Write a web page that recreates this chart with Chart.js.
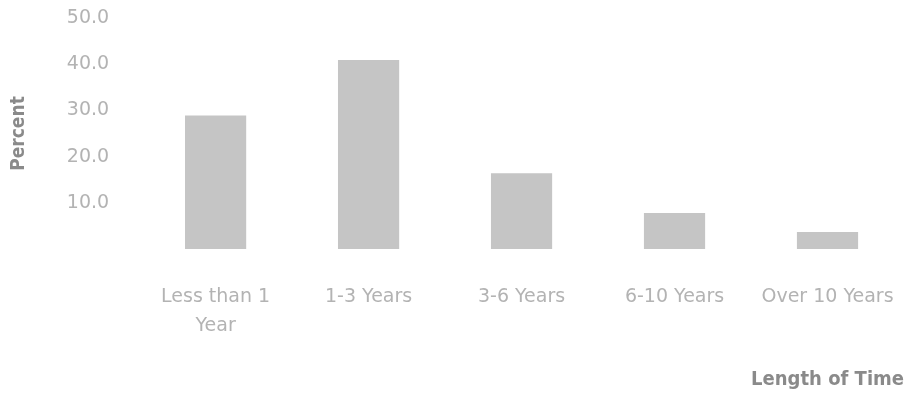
<!DOCTYPE html>
<html>
<head>
<meta charset="utf-8">
<script src="https://cdn.jsdelivr.net/npm/chart.js@4"></script>
<style>
  html, body { margin: 0; padding: 0; background: #fff; }
  #wrap { width: 922px; height: 405px; }
</style>
</head>
<body>
<div id="wrap"><canvas id="myChart"></canvas></div>
<script>
// categories and values
const categories = [["Less than 1", "Year"], "1-3 Years", "3-6 Years", "6-10 Years", "Over 10 Years"];
const percents = [28.9, 40.9, 16.4, 7.8, 3.7];
const yTicks = [10, 20, 30, 40, 50];

const ctx = document.getElementById("myChart");

new Chart(ctx, {
  type: "bar",
  data: {
    labels: categories,
    datasets: [
      {
        label: "Percent",
        data: percents,
        backgroundColor: "#c5c5c5",
        borderWidth: 0,
        barPercentage: 0.8,
        categoryPercentage: 0.5,
      },
    ],
  },
  options: {
    responsive: true,
    maintainAspectRatio: false,
    animation: false,
    layout: { padding: { top: 0, right: 18, left: 8, bottom: 0 } },
    plugins: {
      legend: { display: false },
      tooltip: { enabled: false },
    },
    scales: {
      x: {
        grid: { display: false, drawTicks: false },
        border: { display: false },
        afterFit: (axis) => {
          axis.height = 156; // room under the bars for labels and title
          axis.paddingRight = 0;
          axis.paddingLeft = 0;
        },
        ticks: {
          color: "#b3b3b3",
          padding: 34,
          maxRotation: 0,
          font: { family: "DejaVu Sans, sans-serif", size: 19, lineHeight: 1.5 },
        },
        title: {
          display: true,
          text: "Length of Time",
          align: "end",
          color: "#8a8a8a",
          padding: { top: 30, bottom: 15 },
          font: { family: "DejaVu Sans Condensed, sans-serif", size: 20, weight: "bold", lineHeight: 1.0 },
        },
      },
      y: {
        min: 0,
        max: 50,
        grid: { display: false, drawTicks: false },
        border: { display: false },
        afterBuildTicks: (axis) => {
          axis.ticks = yTicks.map((v) => ({ value: v }));
        },
        afterFit: (axis) => {
          axis.paddingTop = 18;
        },
        ticks: {
          color: "#b3b3b3",
          padding: 30,
          callback: (v) => v.toFixed(1),
          font: { family: "DejaVu Sans, sans-serif", size: 19 },
        },
        title: {
          display: true,
          text: "Percent",
          color: "#8a8a8a",
          padding: { top: 0, bottom: 6 },
          font: { family: "DejaVu Sans Condensed, sans-serif", size: 19, weight: "bold" },
        },
      },
    },
  },
});
</script>
</body>
</html>
